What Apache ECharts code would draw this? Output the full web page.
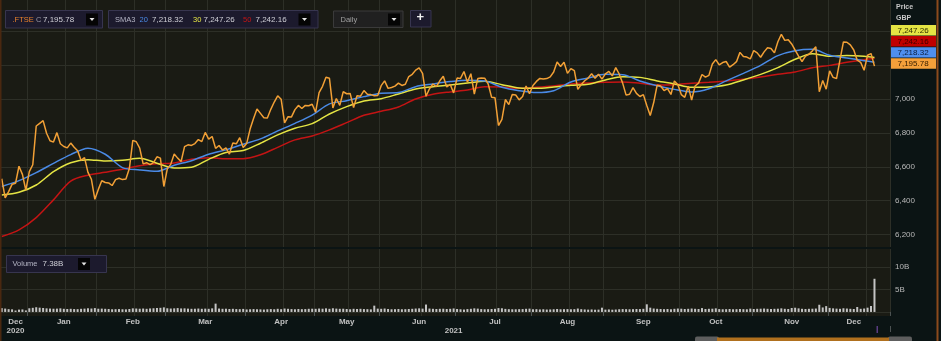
<!DOCTYPE html>
<html>
<head>
    <meta charset="utf-8">
    <title>.FTSE Daily</title>
    <script src="https://cdn.jsdelivr.net/npm/echarts@6/dist/echarts.min.js"></script>
    <style>
        html, body {margin:0;padding:0;background:#0b1414;}
        #chart {width:941px;height:341px;}
    </style>
</head>
<body>
<div id="chart"></div>
<script>
    // LSE closed days inside the window
    var holidays = ['2020-12-25', '2020-12-28', '2021-01-01', '2021-04-02', '2021-04-05',
        '2021-05-03', '2021-05-31', '2021-08-30'];
    var monthNames = ['Jan', 'Feb', 'Mar', 'Apr', 'May', 'Jun', 'Jul', 'Aug', 'Sep', 'Oct', 'Nov', 'Dec'];
    var priceTicks = [6200, 6400, 6600, 6800, 7000];
    var volumeTicks = [5, 10];

    // .FTSE close, one per session, first = 18 Dec 2020
    var closes = [
        6529, 6416, 6453, 6496, 6502, 6603, 6555, 6461,
        6571, 6612, 6841, 6857, 6873, 6798, 6754, 6746, 6802, 6736, 6720, 6712, 6740, 6715, 6695, 6638, 6654, 6567, 6526, 6407,
        6466, 6517, 6507, 6504, 6489, 6524, 6532, 6524, 6528, 6589, 6756, 6748, 6710, 6617, 6624, 6612, 6625, 6659, 6651, 6483,
        6588, 6614, 6675, 6651, 6631, 6719, 6730, 6726, 6737, 6761, 6749, 6803, 6763, 6779, 6709, 6726, 6699, 6712, 6675, 6741, 6736, 6772, 6714,
        6737, 6823, 6885, 6942, 6916, 6890, 6889, 6940, 6983, 7020, 7000, 6860, 6896, 6895, 6938, 6963, 6945, 6963, 6961, 6970,
        6923, 7039, 7076, 7130, 7124, 6948, 7004, 6963, 7044, 7032, 7034, 6950, 7020, 7018, 7051, 7029, 7027, 7020, 7022,
        7080, 7108, 7064, 7069, 7077, 7095, 7081, 7088, 7134, 7147, 7172, 7185, 7153, 7017, 7062, 7090, 7074, 7109, 7136, 7072, 7088, 7037,
        7125, 7123, 7164, 7101, 7151, 7030, 7122, 7125, 7124, 7091, 7012, 7008, 6844, 6881, 6998, 6968, 7027, 7025, 6996, 7016, 7078, 7032,
        7081, 7105, 7123, 7120, 7122, 7132, 7161, 7220, 7193, 7218, 7153, 7181, 7169, 7058, 7087, 7109, 7125, 7150, 7124, 7148, 7119,
        7150, 7164, 7138, 7187, 7149, 7095, 7024, 7029, 7068, 7034, 7016, 7027, 6963, 6903, 6980, 7083, 7078, 7051, 7063, 7028, 7108, 7086,
        7027, 7011, 7077, 6995, 7078, 7095, 7146, 7130, 7141, 7208, 7234, 7203, 7217, 7223, 7190, 7204, 7222, 7277, 7253, 7249, 7238,
        7288, 7274, 7248, 7280, 7304, 7300, 7274, 7340, 7384, 7348, 7352, 7327, 7291, 7255, 7223, 7255, 7266, 7286, 7310, 7044, 7110, 7059,
        7168, 7129, 7122, 7232, 7339, 7337, 7321, 7291, 7231, 7218, 7171, 7260, 7270, 7195.78
    ];

    // volume, billions of shares
    var volumes = [
        0.85, 0.75, 0.62, 0.58, 0.32, 0.52, 0.56, 0.34,
        0.82, 0.92, 1.05, 0.95, 0.88, 0.80, 0.76, 0.72, 0.74, 0.80, 0.70, 0.66, 0.70, 0.64, 0.62, 0.70, 0.74, 0.82, 0.76, 0.86,
        0.72, 0.74, 0.70, 0.66, 0.60, 0.62, 0.64, 0.60, 0.58, 0.66, 0.80, 0.76, 0.72, 0.76, 0.70, 0.78, 0.82, 0.88, 0.92, 1.02,
        0.82, 0.76, 0.80, 0.86, 0.78, 0.80, 0.74, 0.70, 0.72, 0.76, 0.70, 0.74, 0.70, 0.80, 1.85, 0.76, 0.70, 0.72, 0.66, 0.70, 0.64, 0.62, 0.68,
        0.56, 0.60, 0.64, 0.60, 0.58, 0.54, 0.60, 0.64, 0.60, 0.70, 0.62, 0.76, 0.70, 0.64, 0.60, 0.66, 0.62, 0.64, 0.70, 0.72,
        0.70, 0.76, 0.72, 0.80, 0.70, 0.82, 0.74, 0.70, 0.72, 0.66, 0.60, 0.70, 0.66, 0.70, 0.64, 0.62, 0.58, 1.40, 0.74,
        0.70, 0.76, 0.66, 0.60, 0.62, 0.66, 0.60, 0.62, 0.66, 0.70, 0.76, 0.80, 0.74, 1.65, 0.76, 0.70, 0.66, 0.70, 0.72, 0.66, 0.70, 0.78,
        0.66, 0.60, 0.54, 0.64, 0.70, 0.80, 0.74, 0.64, 0.60, 0.62, 0.66, 0.70, 0.86, 0.82, 0.68, 0.62, 0.60, 0.60, 0.62, 0.64, 0.70, 0.74,
        0.60, 0.62, 0.56, 0.60, 0.54, 0.56, 0.60, 0.66, 0.60, 0.62, 0.64, 0.60, 0.62, 0.76, 0.62, 0.56, 0.52, 0.56, 0.50, 0.52, 0.95,
        0.52, 0.56, 0.50, 0.54, 0.60, 0.64, 0.62, 0.60, 0.62, 0.66, 0.64, 0.70, 1.70, 0.95, 0.76, 0.70, 0.66, 0.62, 0.66, 0.60, 0.70, 0.76,
        0.72, 0.66, 0.70, 0.76, 0.70, 0.66, 0.86, 0.66, 0.70, 0.72, 0.80, 0.64, 0.60, 0.62, 0.66, 0.60, 0.62, 0.66, 0.62, 0.60, 0.74,
        0.66, 0.70, 0.72, 0.76, 0.70, 0.66, 0.70, 0.72, 0.80, 0.70, 0.66, 0.88, 0.94, 0.80, 0.70, 0.66, 0.70, 0.72, 0.76, 1.60, 1.00, 1.30,
        0.90, 0.80, 0.74, 0.70, 0.82, 0.76, 0.70, 0.66, 1.10, 0.70, 0.76, 0.95, 1.33, 7.38
    ];

    // moving averages: [session index, value]
    var sma20 = [[0, 6483], [5, 6518], [10, 6565], [15, 6620], [20, 6672], [25, 6710], [30, 6674], [35, 6595],
        [40, 6581], [45, 6573], [50, 6609], [55, 6636], [60, 6674], [65, 6700], [70, 6733], [75, 6765], [80, 6812],
        [85, 6857], [90, 6906], [95, 6972], [100, 6991], [105, 7015], [110, 7035], [115, 7039], [120, 7074],
        [125, 7090], [130, 7104], [135, 7112], [140, 7108], [145, 7070], [150, 7050], [155, 7039], [160, 7050],
        [165, 7102], [170, 7125], [175, 7147], [180, 7145], [185, 7108], [190, 7080], [195, 7058], [200, 7043],
        [205, 7062], [210, 7108], [215, 7153], [220, 7200], [225, 7258], [230, 7287], [235, 7295], [240, 7260],
        [245, 7244], [250, 7228], [253, 7218.32]];
    var sma30 = [[0, 6433], [5, 6449], [10, 6492], [15, 6571], [20, 6624], [25, 6642], [30, 6634], [35, 6638],
        [40, 6650], [45, 6621], [50, 6593], [55, 6597], [60, 6644], [65, 6684], [70, 6696], [75, 6739], [80, 6789],
        [85, 6828], [90, 6855], [95, 6912], [100, 6956], [105, 6989], [110, 7003], [115, 7031], [120, 7060],
        [125, 7074], [130, 7084], [135, 7096], [140, 7106], [145, 7086], [150, 7066], [155, 7064], [160, 7072],
        [165, 7082], [170, 7088], [175, 7114], [180, 7133], [185, 7129], [190, 7108], [195, 7090], [200, 7070],
        [205, 7072], [210, 7084], [215, 7114], [220, 7147], [225, 7187], [230, 7236], [235, 7269], [240, 7254],
        [245, 7258], [250, 7254], [253, 7247.26]];
    var sma50 = [[0, 6187], [5, 6226], [10, 6299], [15, 6404], [20, 6515], [25, 6550], [30, 6567], [35, 6585],
        [40, 6606], [45, 6618], [50, 6622], [55, 6644], [60, 6654], [65, 6648], [70, 6648], [75, 6671], [80, 6715],
        [85, 6759], [90, 6782], [95, 6818], [100, 6861], [105, 6905], [110, 6928], [115, 6954], [120, 7001],
        [125, 7029], [130, 7043], [135, 7054], [140, 7074], [145, 7072], [150, 7064], [155, 7070], [160, 7078],
        [165, 7090], [170, 7096], [175, 7100], [180, 7102], [185, 7094], [190, 7084], [195, 7086], [200, 7094],
        [205, 7100], [210, 7108], [215, 7118], [220, 7131], [225, 7147], [230, 7161], [235, 7186], [240, 7200],
        [245, 7218], [250, 7234], [253, 7242.16]];

    var colors = {price: '#f2a036', sma20: '#4a8ae6', sma30: '#e4e444', sma50: '#c41414'};
    var paneBg = '#1a1b14', gridColor = '#2d2f27';

    // trading sessions on the axis (a few empty future sessions on the right)
    var days = [];
    var d = new Date(Date.UTC(2020, 11, 18)), end = Date.UTC(2021, 11, 24);
    while (d.getTime() <= end) {
        var s = d.toISOString().slice(0, 10), wd = d.getUTCDay();
        if (wd !== 0 && wd !== 6 && holidays.indexOf(s) < 0) days.push(s);
        d.setUTCDate(d.getUTCDate() + 1);
    }
    var lastData = closes.length - 1;

    function spans(len) {
        var out = [], first = 0;
        for (var i = 1; i <= lastData + 1; i++) {
            if (i > lastData || days[i].slice(0, len) !== days[first].slice(0, len)) {
                out.push({first: first, last: i - 1});
                first = i;
            }
        }
        return out;
    }
    var monthSpans = spans(7), yearSpans = spans(4);
    var monthStarts = {}, monthLabels = {}, gridLines = {}, yearStarts = {}, yearLabels = {};
    monthSpans.forEach(function (m, k) {
        var mid = m.first + Math.floor((m.last - m.first + 1) / 2);
        monthLabels[mid] = true;
        if (m.first > 0) {
            monthStarts[m.first] = true;
            gridLines[m.first] = true;
            if (k < monthSpans.length - 1) gridLines[mid + 1] = true;
        }
    });
    var cur = monthSpans[monthSpans.length - 1];
    for (var i = cur.first; i < days.length; i++) {
        if (+days[i].slice(8) >= 16) { gridLines[i] = true; break; }
    }
    yearSpans.forEach(function (y) {
        yearLabels[y.first + Math.floor((y.last - y.first + 1) / 2)] = true;
        if (y.first > 0) yearStarts[y.first] = true;
    });

    function fmt(v) {
        return v.toLocaleString('en-US', {minimumFractionDigits: 2, maximumFractionDigits: 2});
    }
    function last(a) { var v = a[a.length - 1]; return Array.isArray(v) ? v[1] : v; }

    var font = '"Liberation Sans", Arial, sans-serif';
    var graphics = [];
    function box(x, y, w, h, fill, stroke) {
        graphics.push({type: 'rect', z: 100, silent: true, shape: {x: x, y: y, width: w, height: h},
            style: {fill: fill, stroke: stroke, lineWidth: stroke ? 1 : 0}});
    }
    function txt(x, y, str, fill, f) {
        graphics.push({type: 'text', z: 101, silent: true, x: x, y: y,
            style: {text: str, fill: fill, font: f || ('7.5px ' + font), verticalAlign: 'middle'}});
    }
    function drop(x, y) {
        box(x, y, 12, 12, '#050505');
        graphics.push({type: 'polygon', z: 101, silent: true,
            shape: {points: [[x + 3.5, y + 4.5], [x + 8.5, y + 4.5], [x + 6, y + 7.5]]}, style: {fill: '#e6e6e6'}});
    }

    // header widgets
    box(5.5, 10.5, 97, 17.5, '#1c1a2d', '#37354f');
    txt(12.5, 19.5, '.FTSE', '#e8822c');
    txt(36, 19.5, 'C', '#9a9aa6');
    txt(43, 19.5, fmt(last(closes)), '#cfcfd6', '8px ' + font);
    drop(86, 13.5);

    box(108.5, 10.5, 209.5, 17.5, '#1c1a2d', '#37354f');
    txt(115, 19.5, 'SMA3', '#b4b4c4');
    txt(139.5, 19.5, '20', colors.sma20);
    txt(152, 19.5, fmt(last(sma20)), '#cfcfd6', '8px ' + font);
    txt(193, 19.5, '30', colors.sma30);
    txt(203.5, 19.5, fmt(last(sma30)), '#cfcfd6', '8px ' + font);
    txt(243, 19.5, '50', colors.sma50);
    txt(255.5, 19.5, fmt(last(sma50)), '#cfcfd6', '8px ' + font);
    drop(298.5, 13.5);

    box(333.5, 11, 69.5, 16.5, '#202020', '#3a3a3a');
    txt(340.5, 19.5, 'Daily', '#a0a0a0');
    drop(388, 13.5);

    box(410.5, 10.5, 20.5, 16.5, '#1c1a2d', '#37354f');
    txt(416.5, 17.5, '+', '#f0f0f0', 'bold 13px ' + font);

    box(6.5, 255.5, 100, 17, '#1c1a2d', '#37354f');
    txt(12.5, 264, 'Volume', '#b4b4c4');
    txt(42.5, 264, last(volumes).toFixed(2) + 'B', '#cfcfd6', '8px ' + font);
    drop(78, 258);

    // right-hand price tags
    txt(896, 7.5, 'Price', '#c8c8c8', 'bold 7px ' + font);
    txt(896, 18, 'GBP', '#c8c8c8', 'bold 7px ' + font);
    var tags = [
        {v: last(sma30), bg: colors.sma30, fg: '#2e2e00'},
        {v: last(sma50), bg: '#c00000', fg: '#3a0000'},
        {v: last(sma20), bg: '#4f8fef', fg: '#0c1d3c'},
        {v: last(closes), bg: '#f5a03a', fg: '#3a2000'}
    ].sort(function (a, b) { return b.v - a.v; });
    tags.forEach(function (t, k) {
        var y = 25 + k * 11.1;
        box(891, y, 45, 10.4, t.bg);
        txt(897.5, y + 5.4, fmt(t.v), t.fg, '8px ' + font);
    });

    // window edges and range navigator
    box(0, 0, 1.5, 341, '#4a2810');
    box(936.5, 0, 2, 341, '#8c4a1c');
    graphics.push({type: 'rect', z: 100, silent: true, shape: {x: 695, y: 336.5, width: 24, height: 6, r: 2}, style: {fill: '#5e5e5e'}});
    graphics.push({type: 'rect', z: 100, silent: true, shape: {x: 888, y: 336.5, width: 24, height: 6, r: 2}, style: {fill: '#5e5e5e'}});
    box(717, 337.5, 172, 4, '#b0701e');
    box(876.5, 326, 1.5, 7, '#5a3c82');

    var splitX = {show: true, interval: function (i) { return !!gridLines[i]; }, lineStyle: {color: gridColor, width: 1}};
    var axisText = {color: '#b8b8b8', fontSize: 8, fontFamily: font};

    var option = {
        animation: false,
        backgroundColor: '#0b1414',
        grid: [
            {left: 0, right: 51, top: 0, height: 247, show: true, backgroundColor: paneBg, borderWidth: 0},
            {left: 0, right: 51, top: 249, height: 67, show: true, backgroundColor: paneBg, borderWidth: 0}
        ],
        xAxis: [
            {type: 'category', gridIndex: 0, data: days, boundaryGap: true,
                axisLine: {show: false}, axisTick: {show: false}, axisLabel: {show: false}, splitLine: splitX},
            {type: 'category', gridIndex: 1, position: 'bottom', data: days, boundaryGap: true,
                axisLine: {show: false},
                axisTick: {show: true, length: 4, interval: function (i) { return !!monthStarts[i]; }, lineStyle: {color: '#4c5252'}},
                axisLabel: {interval: function (i) { return !!monthLabels[i]; }, margin: 1.5,
                    formatter: function (v) { return monthNames[+v.slice(5, 7) - 1]; },
                    color: '#c0c0c0', fontSize: 8, fontWeight: 'bold', fontFamily: font},
                splitLine: splitX},
            {type: 'category', gridIndex: 1, position: 'bottom', data: days, boundaryGap: true, offset: 10,
                axisLine: {show: false},
                axisTick: {show: true, length: 6, interval: function (i) { return !!yearStarts[i]; }, lineStyle: {color: '#4c5252'}},
                axisLabel: {interval: function (i) { return !!yearLabels[i]; }, margin: 1,
                    formatter: function (v) { return v.slice(0, 4); },
                    color: '#c0c0c0', fontSize: 8, fontWeight: 'bold', fontFamily: font},
                splitLine: {show: false}}
        ],
        yAxis: [
            {type: 'value', gridIndex: 0, position: 'right', min: 6125, max: 7587, splitNumber: 7,
                axisLine: {show: false}, axisTick: {show: false},
                axisLabel: Object.assign({margin: 5, formatter: function (v) {
                    return priceTicks.indexOf(v) >= 0 ? v.toLocaleString('en-US') : '';
                }}, axisText),
                splitLine: {show: true, showMinLine: false, showMaxLine: false, lineStyle: {color: gridColor}}},
            {type: 'value', gridIndex: 1, position: 'right', min: -0.9, max: 14, splitNumber: 3,
                axisLine: {show: false}, axisTick: {show: false},
                axisLabel: Object.assign({margin: 5, formatter: function (v) {
                    return volumeTicks.indexOf(v) >= 0 ? v + 'B' : '';
                }}, axisText),
                splitLine: {show: true, showMinLine: false, showMaxLine: false, lineStyle: {color: gridColor}}}
        ],
        series: [
            {name: 'SMA 50', type: 'line', data: sma50, symbol: 'none', smooth: 0.3, lineStyle: {color: colors.sma50, width: 1.5}},
            {name: 'SMA 30', type: 'line', data: sma30, symbol: 'none', smooth: 0.3, lineStyle: {color: colors.sma30, width: 1.5}},
            {name: 'SMA 20', type: 'line', data: sma20, symbol: 'none', smooth: 0.3, lineStyle: {color: colors.sma20, width: 1.5}},
            {name: '.FTSE', type: 'line', data: closes, symbol: 'none', lineStyle: {color: colors.price, width: 1.5}},
            {name: 'Volume', type: 'bar', xAxisIndex: 1, yAxisIndex: 1, data: volumes, barWidth: 2,
                itemStyle: {color: '#c4c4c4'}}
        ],
        graphic: {elements: graphics}
    };

    var chart = echarts.init(document.getElementById('chart'));
    chart.setOption(option);
</script>
</body>
</html>
